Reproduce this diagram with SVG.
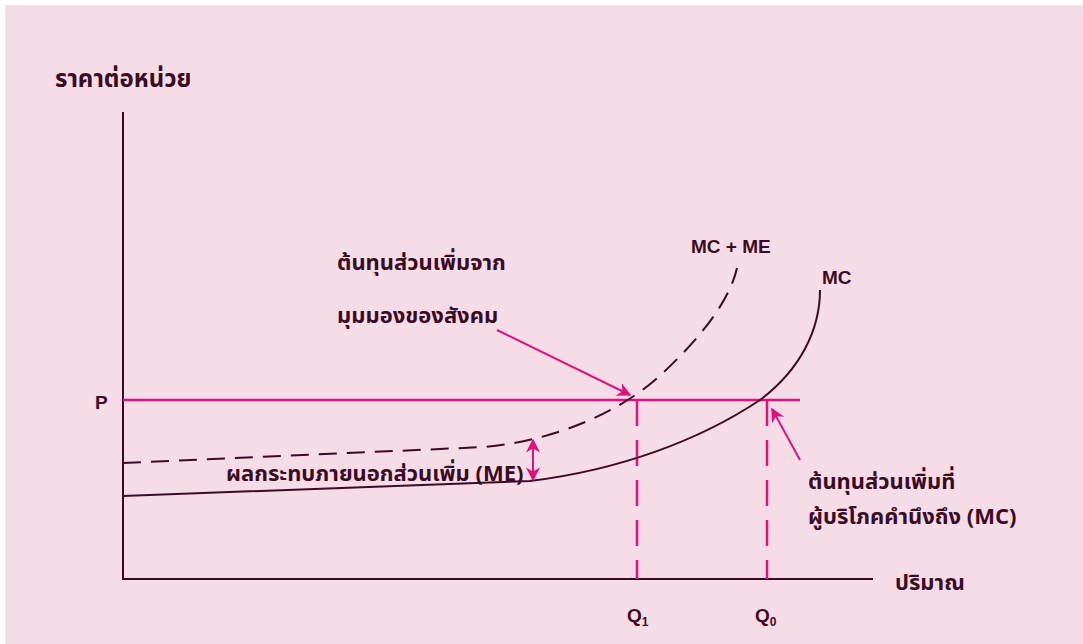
<svg xmlns="http://www.w3.org/2000/svg" width="1083" height="644" viewBox="0 0 1083 644">
<defs>
<style>
.t{font-family:"Noto Sans Thai","Leelawadee UI","Tahoma","Noto Sans","DejaVu Sans",sans-serif;font-size:22px;font-weight:bold;fill:#3a0b24;}
.l{font-family:"Liberation Sans",Arial,sans-serif;font-size:19px;font-weight:bold;fill:#3a0b24;}
.ax{stroke:#3a0b24;stroke-width:2;fill:none;}
.cv{stroke:#3a0b24;stroke-width:2;fill:none;}
.dc{stroke:#3a0b24;stroke-width:2;fill:none;stroke-dasharray:18 10;}
.mg{stroke:#e0127e;stroke-width:2.5;fill:none;}
.md{stroke:#e0127e;stroke-width:2.5;fill:none;stroke-dasharray:26 14;}
</style>
<marker id="ah" viewBox="0 0 10 10" refX="9" refY="5" markerWidth="7" markerHeight="7" orient="auto-start-reverse" markerUnits="strokeWidth">
<path d="M0,0 L10,5 L0,10 L3,5 Z" fill="#e0127e"/>
</marker>
</defs>
<rect x="0" y="0" width="1083" height="644" fill="#ffffff"/>
<rect x="5" y="5" width="1078" height="639" fill="#f6dce6"/>
<g id="axes">
<path class="ax" d="M123,112 V579 H873"/>
</g>
<g id="connectors">
<path class="mg" d="M123,400 H800"/>
<path class="md" d="M637,400 V579"/>
<path class="md" d="M767,400 V579"/>
<path class="cv" d="M123,496 L530,481 C620,470 700,440 760,400 C800,370 820,330 820,290"/>
<path class="dc" d="M123,463 L485,447 C560,440 620,410 655,380 C700,340 730,300 737,268"/>
<path class="mg" d="M533,440 V480" marker-start="url(#ah)" marker-end="url(#ah)" style="stroke-width:2"/>
<path class="mg" d="M497,330 L630,395" marker-end="url(#ah)" style="stroke-width:2"/>
<path class="mg" d="M800,460 L772,409" marker-end="url(#ah)" style="stroke-width:2"/>
</g>
<g id="labels">
<text class="t" x="55" y="87" style="font-size:24px">ราคาต่อหน่วย</text>
<text class="l" x="95" y="409">P</text>
<text class="t" x="337" y="270">ต้นทุนส่วนเพิ่มจาก</text>
<text class="t" x="337" y="323">มุมมองของสังคม</text>
<text class="l" x="691" y="253">MC + ME</text>
<text class="l" x="822" y="284">MC</text>
<text class="t" x="226" y="481">ผลกระทบภายนอกส่วนเพิ่ม (ME)</text>
<text class="t" x="808" y="489">ต้นทุนส่วนเพิ่มที่</text>
<text class="t" x="808" y="524">ผู้บริโภคคำนึงถึง (MC)</text>
<text class="t" x="895" y="590">ปริมาณ</text>
<text class="l" x="627" y="622">Q<tspan style="font-size:12px" dy="4">1</tspan></text>
<text class="l" x="755" y="622">Q<tspan style="font-size:12px" dy="4">0</tspan></text>
</g>
</svg>
